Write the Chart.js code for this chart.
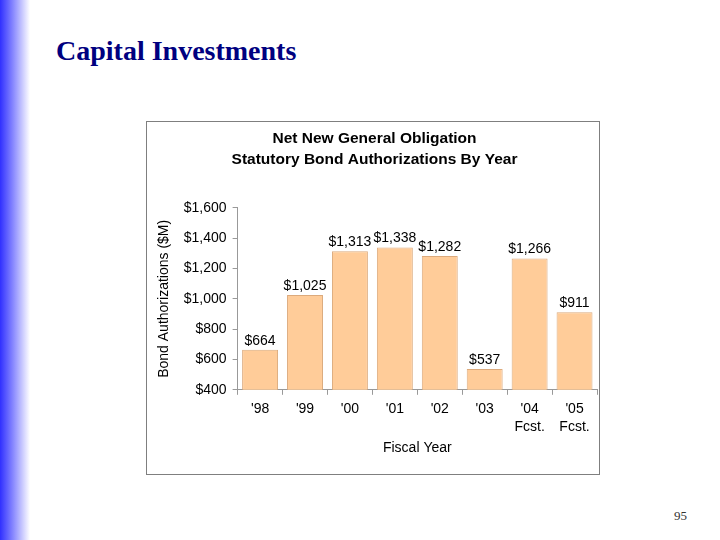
<!DOCTYPE html>
<html>
<head>
<meta charset="utf-8">
<script src="https://cdn.jsdelivr.net/npm/chart.js@4"></script>
<style>
  body { margin: 0; width: 720px; height: 540px; background: #fff; position: relative; overflow: hidden; }
  .strip { position: absolute; left: 0; top: 0; width: 30px; height: 540px;
           background: linear-gradient(to right, #3030ff, #8080ff 40%, #ffffff); }
  .heading { position: absolute; left: 56px; top: 35px; font-family: "Liberation Serif", serif;
             font-weight: bold; font-size: 28px; color: #000080; }
  .pageno { position: absolute; left: 674px; top: 508px; font-family: "Liberation Serif", serif;
            font-size: 13px; color: #333; }
  .box { position: absolute; left: 146px; top: 121px; width: 452px; height: 352px;
         border: 1px solid #7f7f7f; }
</style>
</head>
<body>
<div class="strip"></div>
<div class="heading">Capital Investments</div>
<div class="box"><canvas id="barChart" width="452" height="352"></canvas></div>
<div class="pageno">95</div>
<script>
const years = [["'98"], ["'99"], ["'00"], ["'01"], ["'02"], ["'03"], ["'04", "Fcst."], ["'05", "Fcst."]];
const amounts = [664, 1025, 1313, 1338, 1282, 537, 1266, 911];
const yTicks = [400, 600, 800, 1000, 1200, 1400, 1600];

function money(v) {
  return "$" + v.toLocaleString("en-US");
}

// draws the value labels on top of each bar
const valueLabels = {
  id: "valueLabels",
  afterDatasetsDraw(chart) {
    const ctx = chart.ctx;
    const meta = chart.getDatasetMeta(0);
    ctx.save();
    ctx.font = "14px 'Liberation Sans', Arial";
    ctx.fillStyle = "#000";
    ctx.textAlign = "center";
    ctx.textBaseline = "bottom";
    meta.data.forEach((bar, i) => {
      ctx.fillText(money(amounts[i]), bar.x, bar.y - 2);
    });
    ctx.restore();
  }
};

const data = {
  labels: years,
  datasets: [
    {
      data: amounts,
      backgroundColor: "#ffcc99",
      borderColor: "#dcaa7c",
      borderWidth: 1,
      barPercentage: 0.8,
      categoryPercentage: 1.0,
    },
  ],
};

const config = {
  type: "bar",
  data: data,
  options: {
    responsive: false,
    animation: false,
    layout: { padding: { left: 5, right: 2, top: 6, bottom: 17 } },
    plugins: {
      legend: { display: false },
      tooltip: { enabled: false },
      title: {
        display: true,
        text: ["Net New General Obligation", "Statutory Bond Authorizations By Year"],
        color: "#000",
        font: { family: "'Liberation Sans', Arial", size: 15.5, weight: "bold", lineHeight: 1.35 },
        padding: { top: 0, bottom: 38 },
      },
    },
    scales: {
      x: {
        grid: { display: true, drawOnChartArea: false, drawTicks: true, tickLength: 5, color: "#999" },
        border: { color: "#999" },
        ticks: { color: "#000", font: { family: "'Liberation Sans', Arial", size: 14, lineHeight: 1.3 },
                 padding: 5, maxRotation: 0 },
        title: { display: true, text: "Fiscal Year", color: "#000",
                 font: { family: "'Liberation Sans', Arial", size: 14 }, padding: { top: -1, bottom: 0 } },
      },
      y: {
        min: 400,
        max: 1600,
        afterBuildTicks(axis) { axis.ticks = yTicks.map(v => ({ value: v })); },
        grid: { display: true, drawOnChartArea: false, drawTicks: true, tickLength: 5, color: "#999" },
        border: { color: "#999" },
        ticks: { color: "#000", font: { family: "'Liberation Sans', Arial", size: 14 }, padding: 6,
                 callback: (v) => money(v) },
        title: { display: true, text: "Bond Authorizations ($M)", color: "#000",
                 font: { family: "'Liberation Sans', Arial", size: 14 }, padding: { bottom: 5 } },
      },
    },
  },
  plugins: [valueLabels],
};

const myChart = new Chart(document.getElementById("barChart"), config);
</script>
</body>
</html>
